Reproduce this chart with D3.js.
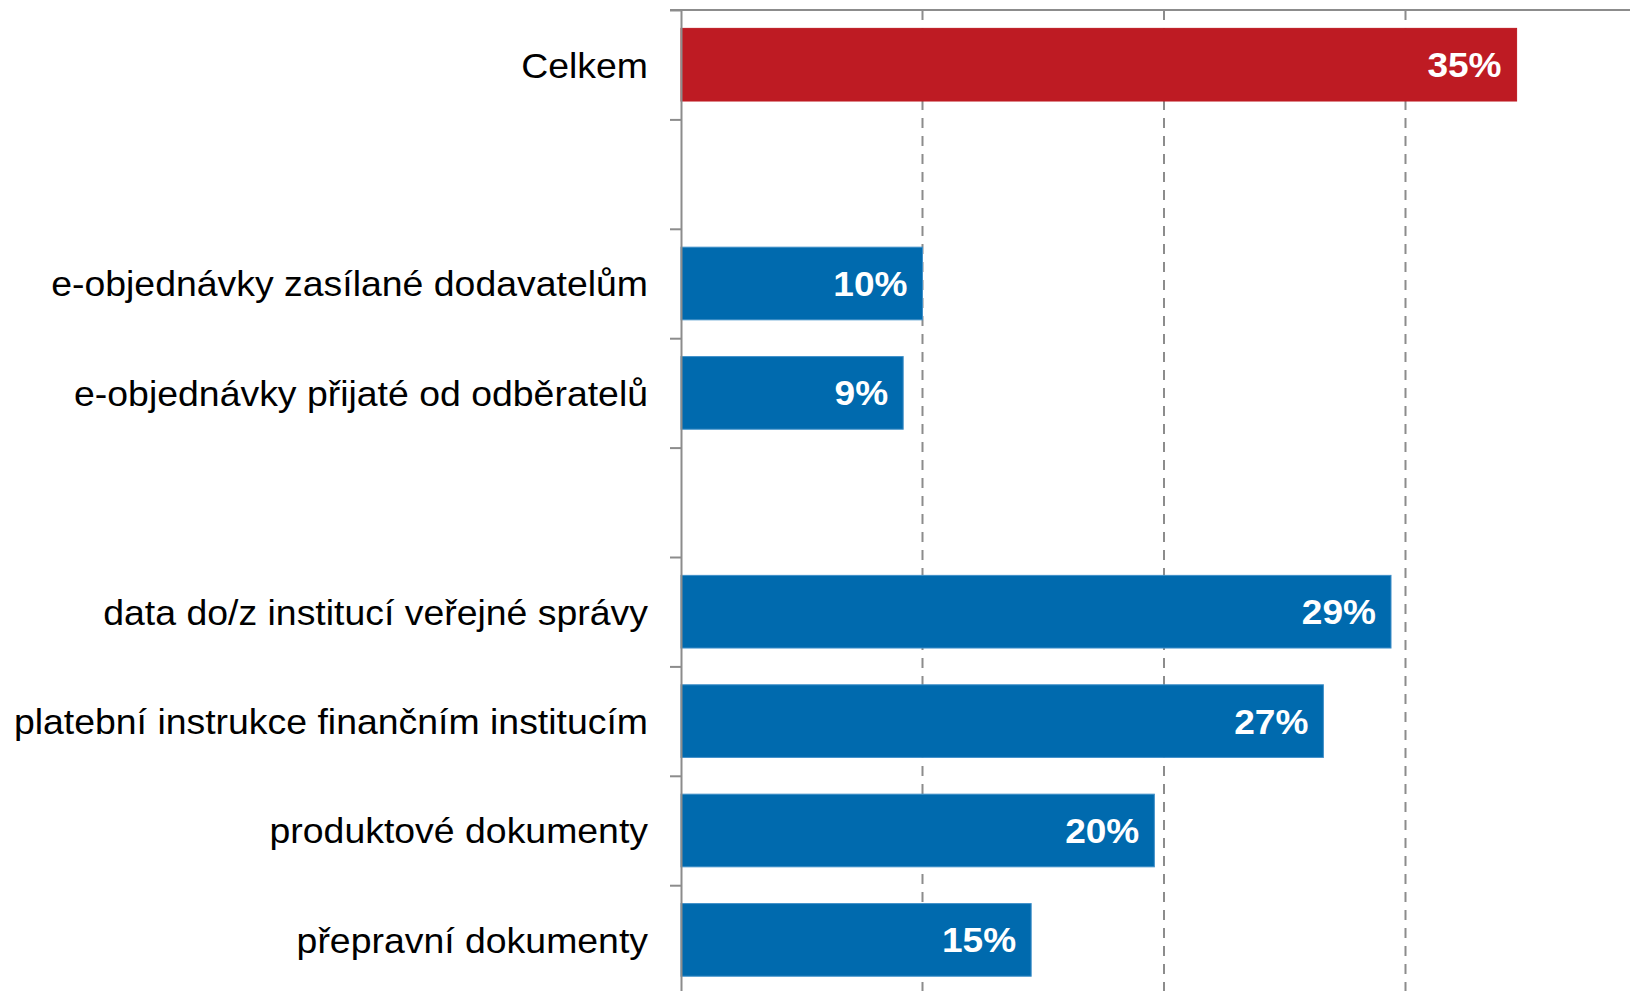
<!DOCTYPE html>
<html>
<head>
<meta charset="utf-8">
<script src="https://cdn.jsdelivr.net/npm/d3@7"></script>
<style>
    body { margin: 0; background: #fff; }
    svg { display: block; }
</style>
</head>
<body>
<div id="chart"></div>
<script>
// categories top to bottom, empty strings are the gaps between groups
const categories = ["Celkem", "", "e-objednávky zasílané dodavatelům", "e-objednávky přijaté od odběratelů", " ",
    "data do/z institucí veřejné správy", "platební instrukce finančním institucím", "produktové dokumenty", "přepravní dokumenty"];
const values = [34.6, null, 10.0, 9.2, null, 29.4, 26.6, 19.6, 14.5];
const valueLabels = ["35%", "", "10%", "9%", "", "29%", "27%", "20%", "15%"];
const gridTicks = [10, 20, 30];

const width = 1630,
    height = 991,
    margin = ({top: 10, left: 681});

const data = categories.map((c, i) => ({cat: c, value: values[i], label: valueLabels[i], idx: i}));

let svg = d3.select("#chart").append("svg")
    .attr("width", width)
    .attr("height", height)
    .attr("viewBox", [0, 0, width, height]);

let x = d3.scaleLinear()
    .domain([0, 40])
    .range([margin.left, 1647]);

const step = 109.4;
let y = d3.scaleBand()
    .domain(d3.range(categories.length))
    .range([margin.top, margin.top + step * categories.length])
    .paddingInner(0.336)
    .paddingOuter(0.168);

// category boundaries for the tick marks
let yEdge = d3.scaleLinear()
    .domain([0, categories.length])
    .range([margin.top, margin.top + step * categories.length]);

// dashed gridlines
svg.append("g")
    .selectAll("line")
    .data(gridTicks)
    .join("line")
    .attr("x1", d => x(d))
    .attr("x2", d => x(d))
    .attr("y1", margin.top)
    .attr("y2", height)
    .attr("stroke", "#8c8c8c")
    .attr("stroke-width", 2)
    .attr("stroke-dasharray", "10,8");

// top line
svg.append("line")
    .attr("x1", margin.left - 11)
    .attr("x2", width)
    .attr("y1", margin.top)
    .attr("y2", margin.top)
    .attr("stroke", "#8c8c8c")
    .attr("stroke-width", 2);

// bars
let bar = svg.selectAll(".bar")
    .data(data.filter(d => d.value != null))
    .join("g")
    .attr("class", "bar");

bar.append("rect")
    .attr("fill", d => d.idx === 0 ? "#be1b23" : "#006aae")
    .attr("stroke", d => d.idx === 0 ? "#be1b23" : "#3f8fc8")
    .attr("stroke-width", 1)
    .attr("x", x(0))
    .attr("y", d => y(d.idx))
    .attr("width", d => x(d.value) - x(0))
    .attr("height", y.bandwidth());

// value labels, slightly widened like the original
bar.append("text")
    .attr("transform", d => `translate(${x(d.value) - 15}, ${y(d.idx) + y.bandwidth() / 2}) scale(1.075, 1)`)
    .attr("dy", "0.36em")
    .attr("text-anchor", "end")
    .attr("fill", "#fff")
    .attr("font-family", "'Liberation Sans', Arial, sans-serif")
    .attr("font-weight", "bold")
    .attr("font-size", 34.5)
    .text(d => d.label);

// left axis with ticks at category boundaries
const yAxis = g => g
    .attr("transform", `translate(${margin.left}, 0)`)
    .call(d3.axisLeft(yEdge).tickValues(d3.range(0, categories.length + 1)).tickFormat("").tickSize(11).tickSizeOuter(0))
    .call(g => g.selectAll("line, path").attr("stroke", "#8c8c8c").attr("stroke-width", 2));

svg.append("g").call(yAxis);

// category labels
svg.append("g")
    .selectAll("text")
    .data(data)
    .join("text")
    .attr("transform", d => `translate(648, ${y(d.idx) + y.bandwidth() / 2}) scale(1.045, 1)`)
    .attr("dy", "0.36em")
    .attr("text-anchor", "end")
    .attr("fill", "#000")
    .attr("font-family", "'Liberation Sans', Arial, sans-serif")
    .attr("font-size", 35.8)
    .text(d => d.cat.trim());
</script>
</body>
</html>
